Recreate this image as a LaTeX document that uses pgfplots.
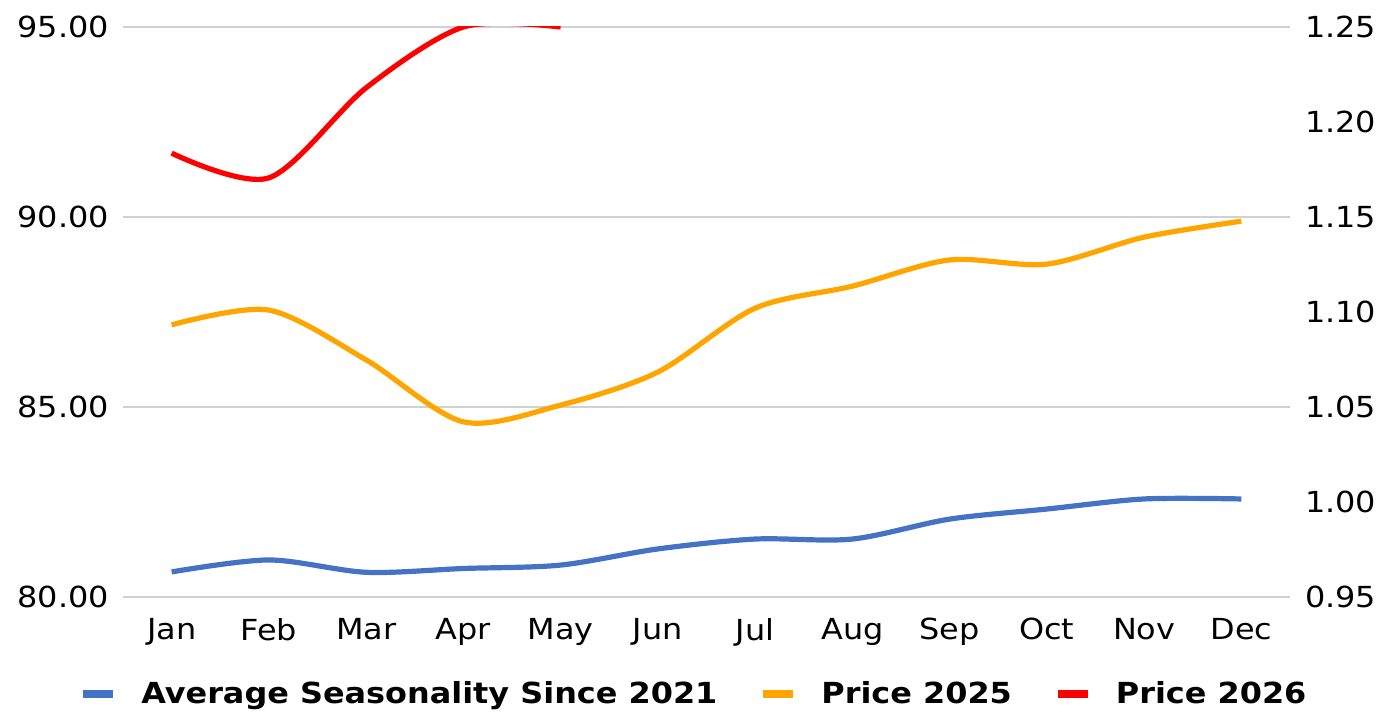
\documentclass[border=0pt]{standalone}
\usepackage{pgfplots}
\pgfplotsset{compat=1.18}
\usepackage{fontspec}
\setmainfont[FakeStretch=1.1]{DejaVu Sans}
\definecolor{cblue}{HTML}{4472C4}
\definecolor{corange}{HTML}{FFA500}
\definecolor{cred}{HTML}{FF0000}
\definecolor{cgrid}{HTML}{D0D0D0}
\begin{document}
\begin{tikzpicture}
\pgfplotsset{
  myaxis/.style={
    width=583.5pt, height=285pt, scale only axis,
    xmin=-0.5, xmax=11.5,
    axis line style={draw=none},
    major tick style={draw=none},
    minor tick style={draw=none},
    tick label style={font=\fontsize{14.5}{17}\selectfont},
    /pgf/number format/fixed,
    /pgf/number format/fixed zerofill,
    /pgf/number format/precision=2,
    /pgf/number format/assume math mode=true,
  }
}
\begin{axis}[myaxis, name=ax,
  ymin=80, ymax=95,
  ytick={80,85,90,95},
  ymajorgrids,
  grid style={cgrid, line width=1pt},
  xtick={0,...,11},
  xticklabels={Jan,Feb,Mar,Apr,May,Jun,Jul,Aug,Sep,Oct,Nov,Dec},
  xticklabel style={yshift=-7pt},
  yticklabel style={xshift=-3.5pt},
  clip=true,
]
\addplot[corange, line width=2.6pt, smooth] coordinates {
(0,87.16) (1,87.55) (2,86.24) (3,84.61) (4,85.05) (5,85.92) (6,87.6) (7,88.18) (8,88.87) (9,88.76) (10,89.47) (11,89.89)
};
\addplot[cred, line width=2.6pt, smooth] coordinates {
(0,91.68) (1,91.03) (2,93.4) (3,95.0) (4,95.0)
};
\end{axis}
\begin{axis}[myaxis,
  axis y line*=right,
  axis x line=none,
  ymin=0.95, ymax=1.25,
  ytick={0.95,1.00,1.05,1.10,1.15,1.20,1.25},
  yticklabel style={xshift=4pt},
  legend columns=3,
  legend style={at={(0.49,-0.171)}, anchor=center, draw=none, fill=none,
    font=\bfseries\fontsize{14.5}{17}\selectfont,
    /tikz/every even column/.append style={column sep=19pt}},
  legend image code/.code={\draw[#1, line width=4pt] (0pt,0pt) -- (15pt,0pt); \path[draw=none] (0pt,0pt) -- (27pt,0pt);},
]
\addplot[cblue, line width=2.6pt, smooth] coordinates {
(0,0.9632) (1,0.9695) (2,0.963) (3,0.965) (4,0.9668) (5,0.9753) (6,0.9805) (7,0.9805) (8,0.991) (9,0.9963) (10,1.0016) (11,1.0016)
};
\addlegendentry{Average Seasonality Since 2021}
\addlegendimage{corange}
\addlegendentry{Price 2025}
\addlegendimage{cred}
\addlegendentry{Price 2026}
\end{axis}
\pgfresetboundingbox
\path[use as bounding box] ([shift={(-61.5pt,-57.5pt)}]ax.south west) rectangle ([shift={(54pt,13.5pt)}]ax.north east);
\end{tikzpicture}
\end{document}
